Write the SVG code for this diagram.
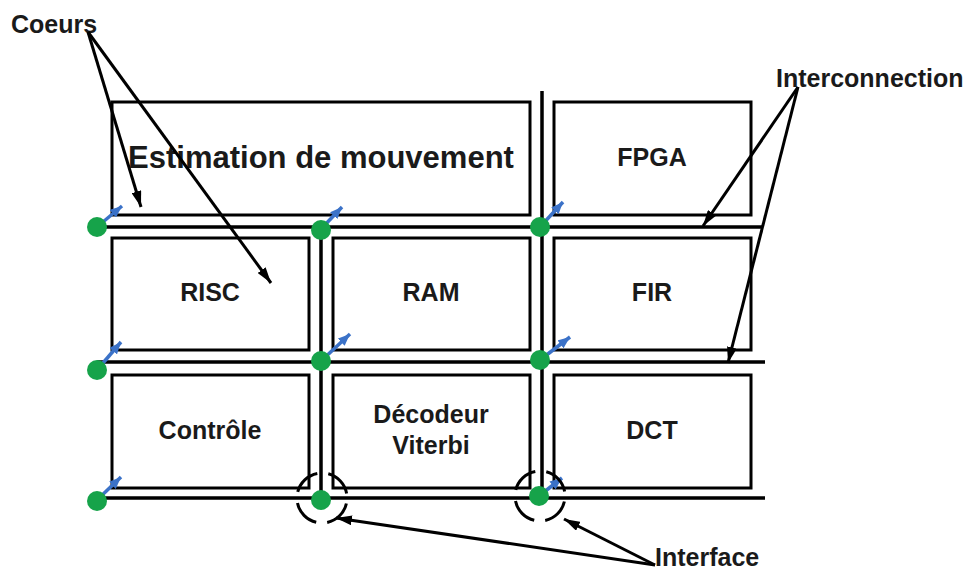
<svg xmlns="http://www.w3.org/2000/svg" width="971" height="573" viewBox="0 0 971 573">
<style>
.box{fill:#fff;stroke:#000;stroke-width:3}
.bus{stroke:#000;stroke-width:3.5;fill:none}
.lbl{font-family:"Liberation Sans",Arial,sans-serif;font-weight:bold;font-size:25px;fill:#1a1a1a;text-anchor:middle}
.ann{font-family:"Liberation Sans",Arial,sans-serif;font-weight:bold;font-size:25px;fill:#1a1a1a}
.pt{fill:#16a34a}
.blue{stroke:#3b72c8;stroke-width:3.5;fill:none;marker-end:url(#bh)}
.arr{stroke:#000;stroke-width:3;fill:none;marker-end:url(#ah)}
.dash{fill:none;stroke:#000;stroke-width:3;stroke-dasharray:28 11.27;stroke-dashoffset:33.6}
</style>
<defs>
<marker id="ah" viewBox="0 0 16 10" refX="16" refY="5" markerWidth="16" markerHeight="10" markerUnits="userSpaceOnUse" orient="auto"><path d="M0,0 L16,5 L0,10 z" fill="#000"/></marker>
<marker id="bh" viewBox="0 0 12 10" refX="12" refY="5" markerWidth="12" markerHeight="10" markerUnits="userSpaceOnUse" orient="auto"><path d="M0,0 L12,5 L0,10 z" fill="#3b72c8"/></marker>
</defs>
<rect width="971" height="573" fill="#fff"/>
<g id="interconnect">
<path class="bus" d="M97,227 H763 M97,362 H765 M97,498 H765 M321,227 V498 M542,91 V498"/>
</g>
<g id="estimation"><rect class="box" x="112" y="102" width="418" height="113"/><text class="lbl" x="321" y="168" style="font-size:31px">Estimation de mouvement</text></g>
<g id="fpga"><rect class="box" x="554" y="102" width="197" height="113"/><text class="lbl" x="652" y="166">FPGA</text></g>
<g id="risc"><rect class="box" x="112" y="238" width="197" height="112"/><text class="lbl" x="210" y="301">RISC</text></g>
<g id="ram"><rect class="box" x="333" y="238" width="197" height="112"/><text class="lbl" x="431" y="301">RAM</text></g>
<g id="fir"><rect class="box" x="554" y="238" width="197" height="112"/><text class="lbl" x="652" y="301">FIR</text></g>
<g id="controle"><rect class="box" x="112" y="375" width="197" height="113"/><text class="lbl" x="210" y="439">Contrôle</text></g>
<g id="viterbi"><rect class="box" x="333" y="375" width="197" height="113"/><text class="lbl" x="431" y="423">Décodeur</text><text class="lbl" x="431" y="454">Viterbi</text></g>
<g id="dct"><rect class="box" x="554" y="375" width="197" height="113"/><text class="lbl" x="652" y="439">DCT</text></g>
<g id="interfaces">
<path class="blue" d="M97,227 L122,206"/>
<path class="blue" d="M321,229 L342,207"/>
<path class="blue" d="M540,227 L563,202"/>
<path class="blue" d="M97,370 L121,342"/>
<path class="blue" d="M321,361 L350,334"/>
<path class="blue" d="M540,360 L570,337"/>
<path class="blue" d="M97,500 L121,477"/>
<path class="blue" d="M539,496 L562,478"/>
<circle class="pt" cx="97" cy="227" r="10"/>
<circle class="pt" cx="321" cy="230" r="10"/>
<circle class="pt" cx="540" cy="227" r="10"/>
<circle class="pt" cx="97" cy="370" r="10"/>
<circle class="pt" cx="321" cy="361" r="10"/>
<circle class="pt" cx="540" cy="360" r="10"/>
<circle class="pt" cx="97" cy="501" r="10"/>
<circle class="pt" cx="321" cy="500" r="10"/>
<circle class="pt" cx="539" cy="496" r="10"/>
<circle class="dash" cx="322" cy="498" r="25"/>
<circle class="dash" cx="540" cy="496" r="25"/>
</g>
<g id="labels">
<text class="ann" x="11" y="33">Coeurs</text>
<text class="ann" x="776" y="87">Interconnection</text>
<text class="ann" x="655" y="566">Interface</text>
</g>
<g id="connectors">
<path class="arr" d="M88,32 L141,207"/>
<path class="arr" d="M88,32 L271,283"/>
<path class="arr" d="M798,87 L703,226"/>
<path class="arr" d="M798,87 L728,363"/>
<path class="arr" d="M655,565 L336,518"/>
<path class="arr" d="M655,565 L564,519"/>
</g>
</svg>
